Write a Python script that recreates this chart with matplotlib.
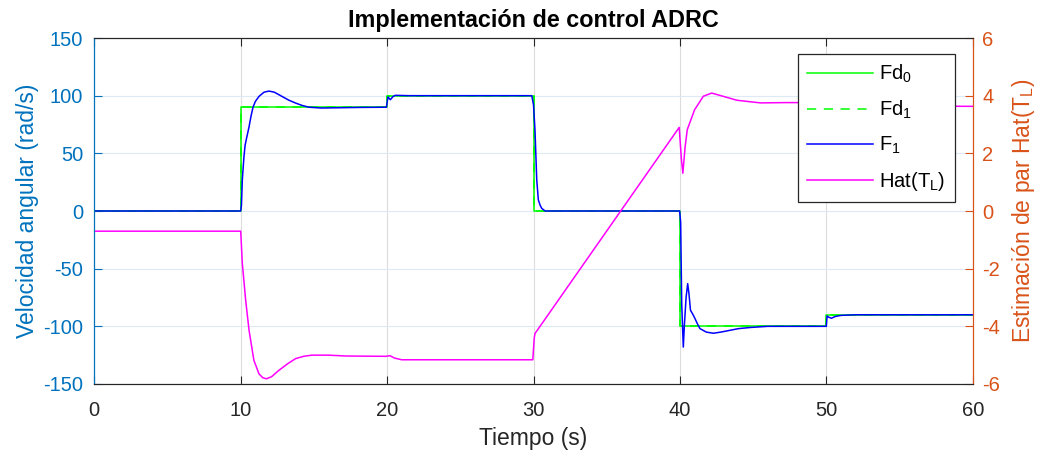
import numpy as np
import matplotlib.pyplot as plt

plt.rcParams['font.family'] = ['Liberation Sans', 'DejaVu Sans']
plt.rcParams['mathtext.fontset'] = 'custom'
plt.rcParams['mathtext.rm'] = 'Liberation Sans'
plt.rcParams['mathtext.it'] = 'Liberation Sans'
plt.rcParams['axes.unicode_minus'] = False

# referencia de velocidad (escalones)
t_ref = [0, 10, 20, 30, 40, 50, 60]
fd0 = [0, 90, 100, 0, -100, -90, -90]
fd1 = [0, 90, 100, 0, -100, -90, -90]

# velocidad medida F1 (rad/s)
t_f1 = [0, 10.0, 10.05, 10.11, 10.22, 10.3, 10.38, 10.45, 10.57, 10.7, 10.84, 11.0,
        11.25, 11.59, 11.93, 12.3, 12.8, 13.3, 13.75, 14.2, 14.66, 15.5, 16.5, 18.0,
        19.95, 20.06, 20.22, 20.4, 20.56, 21.5, 29.88, 30.0, 30.1, 30.22, 30.33, 30.45,
        30.56, 30.79, 39.98, 40.05, 40.12, 40.23, 40.3, 40.42, 40.53, 40.62, 40.72,
        40.9, 41.03, 41.2, 41.37, 41.8, 42.28, 42.8, 43.4, 44.0, 44.8, 46.0, 50.0,
        50.05, 50.15, 50.35, 50.6, 51.0, 52.0, 60.0]
f1 = [0, 0, 5, 27, 47, 57, 62, 66, 73, 82, 90, 95,
      99.4, 103, 104, 103, 99.5, 96, 93.6, 91.5, 90, 89.3, 89.5, 89.8,
      90, 98.9, 96.5, 99.2, 100.3, 100, 100, 92, 70, 27, 9.6, 5,
      2.3, 0, 0, -10, -80, -118, -100, -75, -63, -72, -86,
      -90, -93.3, -98, -102, -105, -106, -105, -103.5, -102, -101, -100, -100,
      -91, -92, -93, -91.5, -90.5, -90, -90]

# par de carga estimado Hat(T_L)
t_hat = [0, 10.0, 10.11, 10.34, 10.57, 10.9, 11.25, 11.5, 11.75, 12.1, 12.6, 13.2,
         13.75, 14.3, 14.86, 16.0, 17.2, 19.9, 20.2, 20.5, 21.0, 29.95, 30.05, 30.1,
         39.95, 40.1, 40.2, 40.35, 40.5, 41.0, 41.6, 42.17, 42.8, 43.9, 45.5, 47.3,
         50.0, 50.3, 51.0, 60.0]
hat_tl = [-0.70, -0.70, -1.82, -3.1, -4.14, -5.18, -5.65, -5.78, -5.82, -5.75, -5.53, -5.3,
          -5.12, -5.04, -5.0, -5.0, -5.03, -5.04, -5.02, -5.1, -5.16, -5.16, -4.4, -4.25,
          2.9, 1.8, 1.31, 2.2, 2.82, 3.51, 3.98, 4.09, 4.0, 3.84, 3.75, 3.76,
          3.76, 3.7, 3.65, 3.63]

c_left = '#0072BD'
c_right = '#D95319'
c_ax = '#262626'

fig = plt.figure(figsize=(10.49, 4.58), dpi=100)
ax1 = fig.add_axes([0.0899, 0.1616, 0.8374, 0.7554])
ax2 = ax1.twinx()

l0, = ax1.plot(t_ref, fd0, color='#00FF00', lw=1.1, drawstyle='steps-post', label='Fd$_0$')
l1, = ax1.plot(t_ref, fd1, color='#00FF00', lw=1.1, ls=(0, (6, 5)), drawstyle='steps-post',
               label='Fd$_1$')
l2, = ax1.plot(t_f1, f1, color='#0000FF', lw=1.1, label='F$_1$')
l3, = ax2.plot(t_hat, hat_tl, color='#FF00FF', lw=1.1, label='Hat(T$_\\mathrm{L}$)')

ax1.set_xlim(0, 60)
ax1.set_ylim(-150, 150)
ax2.set_ylim(-6, 6)
ax1.set_xticks(np.arange(0, 61, 10))
ax1.set_yticks(np.arange(-150, 151, 50))
ax2.set_yticks(np.arange(-6, 7, 2))

ax1.xaxis.grid(True, color='#dcdcdc', lw=0.8)
ax1.yaxis.grid(True, color='#dde9f4', lw=0.8)
ax1.set_axisbelow(True)

ax1.tick_params(axis='x', direction='in', top=True, length=6, width=0.8,
                colors=c_ax, labelsize=14.5, pad=12)
ax1.tick_params(axis='y', direction='in', length=6, width=0.8,
                colors=c_left, labelsize=14.5, pad=8)
ax2.tick_params(axis='y', direction='in', length=6, width=0.8,
                colors=c_right, labelsize=14.5, pad=7)

for ax in (ax1, ax2):
    ax.spines['top'].set_color(c_ax)
    ax.spines['bottom'].set_color(c_ax)
    ax.spines['left'].set_color(c_left)
    ax.spines['right'].set_color(c_right)
    for s in ax.spines.values():
        s.set_linewidth(0.8)

ax1.set_xlabel('Tiempo (s)', fontsize=16.5, color=c_ax, labelpad=5)
ax1.set_ylabel('Velocidad angular (rad/s)', fontsize=16.5, color=c_left, labelpad=3)
ax2.set_ylabel('Estimación de par Hat(T$_\\mathrm{L}$)', fontsize=16.5, color=c_right,
               labelpad=7)
ax1.set_title('Implementación de control ADRC', fontsize=16.8, fontweight='bold',
              color='black', pad=8)

leg = ax2.legend(handles=[l0, l1, l2, l3], loc='upper right',
                 bbox_to_anchor=(0.9795, 0.954), borderaxespad=0, fontsize=14.5,
                 frameon=True, fancybox=False, handlelength=3.3, labelspacing=0.68,
                 borderpad=0.45, handletextpad=0.3)
leg.get_frame().set_edgecolor(c_ax)
leg.get_frame().set_linewidth(0.9)
leg.get_frame().set_alpha(1)

fig.savefig('out.png', dpi=100)
